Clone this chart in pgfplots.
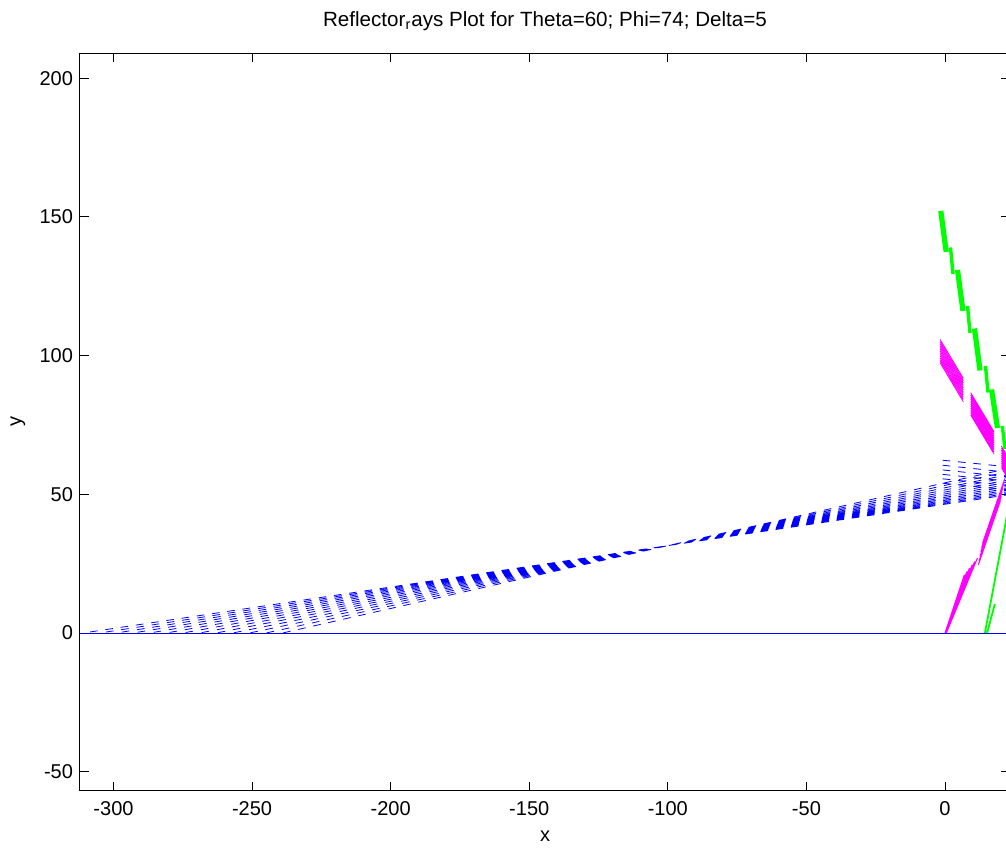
\documentclass[border=0pt]{standalone}
\usepackage{fontspec}
\setmainfont{Liberation Sans}
\usepackage{pgfplots}
\pgfplotsset{compat=1.18}
\definecolor{mblue}{rgb}{0,0,1}
\definecolor{mgreen}{rgb}{0,1,0}
\definecolor{mmag}{rgb}{1,0,1}
\begin{document}
\begin{tikzpicture}
\begin{axis}[
  scale only axis,
  width=465.0pt, height=368.7pt,
  xmin=-312.09, xmax=23.45, ymin=-56.85, ymax=209.0,
  xtick={-300,-250,-200,-150,-100,-50,0},
  xticklabels={-300,-250,-200,-150,-100,-50,0},
  ytick={-50,0,50,100,150,200},
  yticklabels={-50,0,50,100,150,200},
  tick pos=both,
  tick align=inside,
  major tick length=4.5pt,
  tick style={black, line width=0.5pt},
  axis line style={black, line width=0.5pt},
  ticklabel style={font=\fontsize{10}{12}\selectfont},
  xticklabel style={yshift=-2pt},
  every axis title shift=0pt,
  title={Reflector\textsubscript{r}ays Plot for Theta=60; Phi=74; Delta=5},
  title style={font=\fontsize{10.3}{12}\selectfont, at={(0.5,1)}, anchor=base, yshift=13.6pt},
  xlabel={x}, ylabel={y},
  xlabel style={font=\fontsize{10}{12}\selectfont, at={(axis description cs:0.5,-0.062)}, anchor=center},
  ylabel style={font=\fontsize{10}{12}\selectfont, at={(axis description cs:-0.0667,0.5)}, anchor=center},
  unbounded coords=jump,
]
% ground line
\addplot[mblue, line width=0.45pt] coordinates {(-312.09,0) (23.45,0)};
% blue rays through the focus, from the reflector to the ground
\addplot[mblue, line width=0.4pt, dash pattern=on 3.8pt off 3.9pt] coordinates {
(24,50.01) (-311,0) (nan,nan)
(24,50.55) (-305,0) (nan,nan)
(24,51.13) (-299,0) (nan,nan)
(24,51.74) (-293,0) (nan,nan)
(24,52.39) (-287,0) (nan,nan)
(24,53.08) (-281,0) (nan,nan)
(24,53.82) (-275,0) (nan,nan)
(24,54.61) (-269,0) (nan,nan)
(24,55.46) (-263,0) (nan,nan)
(24,56.38) (-257,0) (nan,nan)
(24,57.37) (-251,0) (nan,nan)
(24,58.44) (-245,0) (nan,nan)
(24,59.60) (-239,0)
};
% blue incoming rays ending near x=-1
\addplot[mblue, line width=0.4pt, dash pattern=on 3.8pt off 3.9pt] coordinates {
(24,51.5) (-1,54.0) (nan,nan)
(24,53.0) (-1,55.6) (nan,nan)
(24,54.6) (-1,57.2) (nan,nan)
(24,56.2) (-1,58.8) (nan,nan)
(24,57.8) (-1,60.5) (nan,nan)
(24,59.8) (-1,62.3)
};
% magenta upper bundles
\addplot[mmag, line width=0.4pt] coordinates {
(-1.8,97.45) (6.6,83.39) (nan,nan)
(-1.8,98.30) (6.6,84.24) (nan,nan)
(-1.8,99.14) (6.6,85.08) (nan,nan)
(-1.8,99.99) (6.6,85.93) (nan,nan)
(-1.8,100.83) (6.6,86.77) (nan,nan)
(-1.8,101.68) (6.6,87.62) (nan,nan)
(-1.8,102.52) (6.6,88.46) (nan,nan)
(-1.8,103.37) (6.6,89.31) (nan,nan)
(-1.8,104.21) (6.6,90.15) (nan,nan)
(-1.8,105.06) (6.6,91.00) (nan,nan)
(-1.8,105.90) (6.6,91.84) (nan,nan)
(9.27,78.60) (17.68,64.54) (nan,nan)
(9.27,79.40) (17.68,65.34) (nan,nan)
(9.27,80.21) (17.68,66.15) (nan,nan)
(9.27,81.01) (17.68,66.95) (nan,nan)
(9.27,81.82) (17.68,67.76) (nan,nan)
(9.27,82.62) (17.68,68.56) (nan,nan)
(9.27,83.42) (17.68,69.36) (nan,nan)
(9.27,84.23) (17.68,70.17) (nan,nan)
(9.27,85.03) (17.68,70.97) (nan,nan)
(9.27,85.84) (17.68,71.78) (nan,nan)
(9.27,86.64) (17.68,72.58) (nan,nan)
(20.34,59.60) (28.74,45.54) (nan,nan)
(20.34,60.38) (28.74,46.32) (nan,nan)
(20.34,61.16) (28.74,47.10) (nan,nan)
(20.34,61.94) (28.74,47.88) (nan,nan)
(20.34,62.72) (28.74,48.66) (nan,nan)
(20.34,63.50) (28.74,49.44) (nan,nan)
(20.34,64.28) (28.74,50.22) (nan,nan)
(20.34,65.06) (28.74,51.00) (nan,nan)
(20.34,65.84) (28.74,51.78) (nan,nan)
(20.34,66.62) (28.74,52.56) (nan,nan)
(20.34,67.40) (28.74,53.34)
};
% magenta lower bundles
\addplot[mmag, line width=0.5pt] coordinates {
(0,0) (7.0,21.0) (nan,nan)
(0.1,0) (7.9,22.2) (nan,nan)
(0.2,0) (8.8,23.4) (nan,nan)
(0.3,0) (9.8,24.6) (nan,nan)
(0.4,0) (10.7,25.8) (nan,nan)
(0.5,0) (11.7,27.0) (nan,nan)
(12.0,24.5) (20.0,47.7) (nan,nan)
(12.3,26.05) (20.3,49.25) (nan,nan)
(12.6,27.6) (20.6,50.8) (nan,nan)
(12.9,29.15) (20.9,52.35) (nan,nan)
(13.2,30.7) (21.2,53.9) (nan,nan)
(13.5,32.25) (21.5,55.45)
};
% green upper chain
\addplot[mgreen, line width=2.6pt] coordinates {
(-1.52,152.15) (0.43,137.37) (nan,nan)
(4.51,130.88) (6.49,116.10) (nan,nan)
(10.64,109.78) (12.63,94.64) (nan,nan)
(16.78,87.79) (18.94,73.91)
};
\addplot[mgreen, line width=1.7pt] coordinates {
(1.98,138.99) (2.89,129.43) (nan,nan)
(8.12,117.90) (9.02,108.16) (nan,nan)
(14.61,96.27) (15.51,86.71) (nan,nan)
(20.67,74.63) (21.65,66.35)
};
% green lower rays
\addplot[mgreen, line width=0.9pt] coordinates {
(14.4,0) (22.4,42.5) (nan,nan)
(15.2,0) (18.0,10.5)
};
\end{axis}
\pgfresetboundingbox
\path[use as bounding box] (-40pt,-29.15pt) rectangle (463pt,395.35pt);
\end{tikzpicture}
\end{document}
